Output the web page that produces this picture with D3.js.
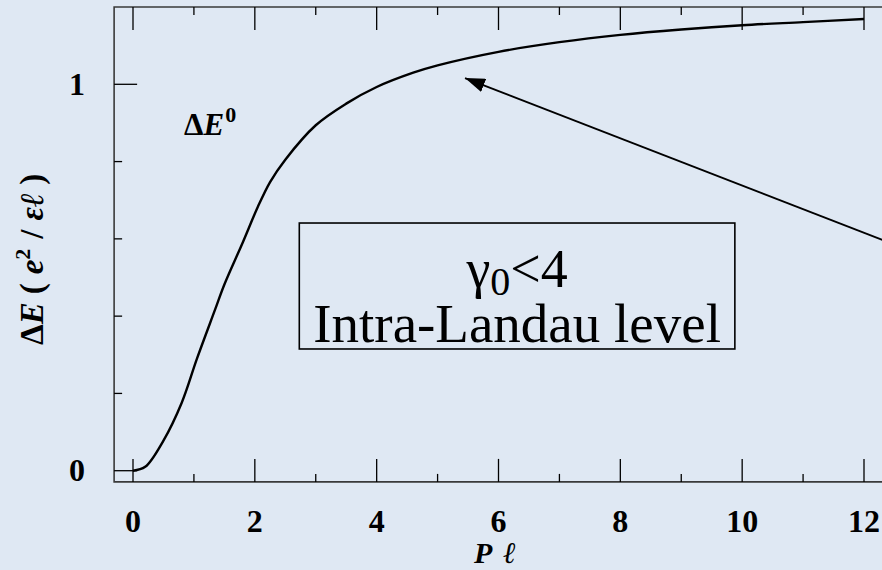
<!DOCTYPE html>
<html>
<head>
<meta charset="utf-8">
<script src="https://cdn.jsdelivr.net/npm/d3@7"></script>
<style>
  html, body { margin: 0; padding: 0; background: #dfe8f3; }
  svg { display: block; }
  text { font-family: "Liberation Serif", "Times New Roman", serif; fill: #000; }
</style>
</head>
<body>
<svg id="chart" width="882" height="570"></svg>
<script>
// Ground-state energy dispersion ΔE⁰ versus momentum Pℓ
const momentum = [0, 0.2, 0.5, 0.8, 1.05, 1.35, 1.5, 1.8, 2.05, 2.25, 2.5, 3, 3.5, 4, 4.6, 5, 6, 7, 8, 9, 10, 11, 12];
const energy   = [0, 0.01, 0.078, 0.176, 0.29, 0.418, 0.482, 0.59, 0.683, 0.747, 0.805, 0.894, 0.95, 0.993, 1.03, 1.049, 1.084, 1.109, 1.128, 1.142, 1.153, 1.161, 1.169];

const xMajorTicks = [0, 2, 4, 6, 8, 10, 12];
const xMinorTicks = [1, 3, 5, 7, 9, 11];
const yMajorTicks = [0, 1];
const yMinorTicks = [0.2, 0.4, 0.6, 0.8];

const boxLines = ["γ0<4", "Intra-Landau level"];

const svg = d3.select("#chart");

const x = d3.scaleLinear().domain([0, 12]).range([133, 864]);
const y = d3.scaleLinear().domain([0, 1]).range([470.7, 84.3]);

const fLeft = x(-0.31), fTop = y(1.2), fBottom = y(-0.029), fRight = x(12.6);

// frame (the right side runs past the canvas)
svg.append("path")
  .attr("d", `M${fRight},${fTop}H${fLeft}V${fBottom}H${fRight}`)
  .attr("fill", "none").attr("stroke", "#3a3a3a").attr("stroke-width", 1.6);

const major = 23, minor = 8;
const tickG = svg.append("g").attr("stroke", "#000").attr("stroke-width", 1.3);

// bottom & top ticks
[[xMajorTicks, major], [xMinorTicks, minor]].forEach(([ticks, len]) => {
  ticks.forEach(t => {
    tickG.append("line").attr("x1", x(t)).attr("x2", x(t)).attr("y1", fBottom).attr("y2", fBottom - len);
    tickG.append("line").attr("x1", x(t)).attr("x2", x(t)).attr("y1", fTop).attr("y2", fTop + len);
  });
});
// left ticks
[[yMajorTicks, major], [yMinorTicks, minor]].forEach(([ticks, len]) => {
  ticks.forEach(t => {
    tickG.append("line").attr("x1", fLeft).attr("x2", fLeft + len).attr("y1", y(t)).attr("y2", y(t));
  });
});

// tick labels
svg.append("g").selectAll("text").data(xMajorTicks).join("text")
  .attr("x", d => x(d)).attr("y", 532)
  .attr("text-anchor", "middle").attr("font-weight", "bold").attr("font-size", 32)
  .text(d => d);
svg.append("g").selectAll("text").data(yMajorTicks).join("text")
  .attr("x", 77).attr("y", d => y(d) + 10.5)
  .attr("text-anchor", "middle").attr("font-weight", "bold").attr("font-size", 32)
  .text(d => d);

// axis titles
const xt = svg.append("text").attr("x", 495).attr("y", 563)
  .attr("text-anchor", "middle").attr("font-weight", "bold").attr("font-style", "italic").attr("font-size", 30);
xt.append("tspan").text("P");
xt.append("tspan").attr("dx", 11).text("ℓ");

const yt = svg.append("text")
  .attr("transform", "translate(43,345) rotate(-90)")
  .attr("text-anchor", "start").attr("font-weight", "bold").attr("font-size", 33);
yt.append("tspan").text("Δ");
yt.append("tspan").attr("font-style", "italic").text("E");
yt.append("tspan").attr("dx", 8).text("(");
yt.append("tspan").attr("dx", 9).attr("font-style", "italic").text("e");
yt.append("tspan").attr("font-size", 22).attr("dy", -13).text("2");
yt.append("tspan").attr("dx", 10).attr("dy", 13).text("/");
yt.append("tspan").attr("dx", 9).attr("font-style", "italic").text("εℓ");
yt.append("tspan").attr("dx", 8).text(")");

// curve label
const lab = svg.append("text").attr("x", 184).attr("y", 135)
  .attr("font-weight", "bold").attr("font-size", 31);
lab.append("tspan").text("Δ");
lab.append("tspan").attr("font-style", "italic").text("E");
lab.append("tspan").attr("font-size", 22).attr("dy", -13).attr("dx", 1).text("0");

// dispersion curve
const line = d3.line().x(d => x(d[0])).y(d => y(d[1])).curve(d3.curveCatmullRom.alpha(0.5));
svg.append("path")
  .datum(momentum.map((p, i) => [p, energy[i]]))
  .attr("d", line)
  .attr("fill", "none").attr("stroke", "#000").attr("stroke-width", 2.4);

// annotation box with a two-line caption
const bx0 = x(2.73), bx1 = x(9.88), by0 = y(0.641), by1 = y(0.315);
svg.append("rect")
  .attr("x", bx0).attr("y", by0).attr("width", bx1 - bx0).attr("height", by1 - by0)
  .attr("fill", "none").attr("stroke", "#000").attr("stroke-width", 1.6);

const cx = (bx0 + bx1) / 2;
const cap = svg.append("text").attr("x", cx).attr("y", 287)
  .attr("text-anchor", "middle").attr("font-size", 54);
cap.append("tspan").text("γ");
cap.append("tspan").attr("font-size", 40).attr("dy", 8).text("0");
cap.append("tspan").attr("dy", -8).text("<4");
cap.append("tspan").attr("x", cx).attr("dy", 55).attr("font-size", 55).text(boxLines[1]);

// arrow pointing at the curve
svg.append("defs").append("marker")
  .attr("id", "head").attr("viewBox", "0 0 20 14").attr("refX", 20).attr("refY", 7)
  .attr("markerWidth", 20).attr("markerHeight", 14).attr("markerUnits", "userSpaceOnUse")
  .attr("orient", "auto")
  .append("path").attr("d", "M0,0L20,7L0,14Z").attr("fill", "#000");
svg.append("line")
  .attr("x1", x(12.5)).attr("y1", y(0.585))
  .attr("x2", x(5.45)).attr("y2", y(1.016))
  .attr("stroke", "#000").attr("stroke-width", 1.8)
  .attr("marker-end", "url(#head)");
</script>
</body>
</html>
